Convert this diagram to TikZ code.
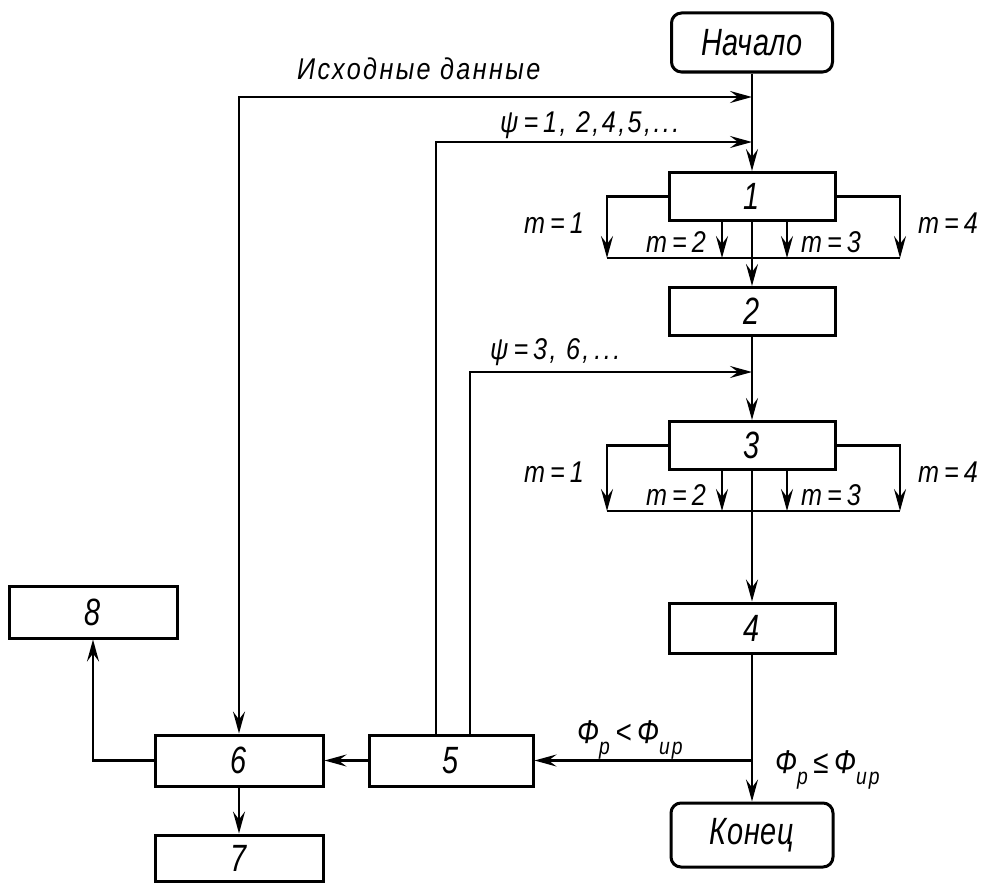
\documentclass[tikz,border=0pt]{standalone}
\usepackage{fontspec}
\setmainfont{Liberation Sans}
\newfontfamily\boxfont{Liberation Sans}[FakeStretch=0.76,LetterSpace=2]
\newfontfamily\labfont{Liberation Sans}[FakeStretch=0.84,LetterSpace=8]
\usetikzlibrary{arrows.meta,calc}
\newcommand\lo[1]{\raisebox{-0.35em}{\fontsize{23}{24}\selectfont #1}}
\begin{document}
\begin{tikzpicture}[x=1pt,y=-1pt,
  >={Stealth[length=22pt,width=12pt,inset=8pt]},
  box/.style={draw,line width=3pt,minimum width=166pt,minimum height=48pt,inner sep=0pt,
    font=\boxfont\fontsize{38}{40}\selectfont\itshape},
  term/.style={box,rounded corners=10pt},
  conn/.style={line width=2.5pt,->},
  line/.style={line width=2.5pt},
  lab/.style={font=\labfont\fontsize{30}{32}\selectfont\itshape,inner sep=0pt},
  phi/.style={font=\labfont\fontsize{33}{35}\selectfont\itshape,inner sep=0pt},
]
\useasboundingbox (0,0) rectangle (990,883);

% blocks
\node[term,minimum width=161pt,minimum height=59pt] (start) at (752,42.5) {Начало};
\node[box] (b1) at (752,196.5) {1};
\node[box] (b2) at (752,311.5) {2};
\node[box] (b3) at (752,445.5) {3};
\node[box,minimum height=50pt] (b4) at (752,628) {4};
\node[term,minimum width=162pt,minimum height=64pt] (end) at (752,835) {Конец};
\node[box,minimum width=164pt,minimum height=51pt] (b5) at (451,760.5) {5};
\node[box,minimum width=168pt,minimum height=51pt] (b6) at (239,760.5) {6};
\node[box,minimum width=168pt,minimum height=46pt] (b7) at (239,858) {7};
\node[box,minimum width=168pt,minimum height=52pt] (b8) at (93,612) {8};

% junction points
\coordinate (jIn) at (752,97);
\coordinate (jPsiA) at (752,142);
\coordinate (jPsiB) at (752,372);
\coordinate (jCmp) at (752,760.5);
\coordinate (aL) at (607,258);
\coordinate (aM2) at (722,258);
\coordinate (aM3) at (787,258);
\coordinate (aR) at (900,258);
\coordinate (cL) at (607,511);
\coordinate (cM2) at (722,511);
\coordinate (cM3) at (787,511);
\coordinate (cR) at (900,511);

% main flow
\draw[conn] (start) -- (b1);
\draw[conn] (b1) -- (b2);
\draw[conn] (b2) -- (b3);
\draw[conn] (b3) -- (b4);
\draw[conn] (b4) -- (end);

% input and feedback lines
\draw[line width=2.5pt,<->] (b6.north) |- (jIn);
\draw[conn] ([xshift=-15pt]b5.north) |- (jPsiA);
\draw[conn] ([xshift=19pt]b5.north) |- (jPsiB);
\draw[conn] (jCmp) -- (b5.east);
\draw[conn] (b5) -- (b6);
\draw[conn] (b6.west) -| (b8.south);
\draw[conn] (b6) -- (b7);

% branches of block 1
\draw[conn] (b1.west) -| (aL);
\draw[conn] (b1.east) -| (aR);
\draw[conn] (b1.south -| aM2) -- (aM2);
\draw[conn] (b1.south -| aM3) -- (aM3);
\draw[line] (aL) -- (aR);

% branches of block 3
\draw[conn] (b3.west) -| (cL);
\draw[conn] (b3.east) -| (cR);
\draw[conn] (b3.south -| cM2) -- (cM2);
\draw[conn] (b3.south -| cM3) -- (cM3);
\draw[line] (cL) -- (cR);

% labels
\node[lab,anchor=base west] (tIn) at (297,79) {Исходные данные};
\node[lab,anchor=base west] (tPsiA) at (500,132) {ψ\,=\,1, 2,4,5,...};
\node[lab,anchor=base west] (tPsiB) at (490,359) {ψ\,=\,3, 6,\,...};

\node[lab,anchor=east] (t11) at (584,223) {m\,=\,1};
\node[lab,anchor=east] (t12) at (706,242) {m\,=\,2};
\node[lab,anchor=west] (t13) at (801,242) {m\,=\,3};
\node[lab,anchor=west] (t14) at (918,223) {m\,=\,4};

\node[lab,anchor=east] (t31) at (584,472) {m\,=\,1};
\node[lab,anchor=east] (t32) at (706,495) {m\,=\,2};
\node[lab,anchor=west] (t33) at (801,495) {m\,=\,3};
\node[lab,anchor=west] (t34) at (918,472) {m\,=\,4};

\node[phi,anchor=base west] (tLt) at (577,743) {Ф\lo{р}\,<\,Ф\lo{ир}};
\node[phi,anchor=base west] (tLe) at (775,773) {Ф\lo{р}\,≤\,Ф\lo{ир}};
\end{tikzpicture}
\end{document}
